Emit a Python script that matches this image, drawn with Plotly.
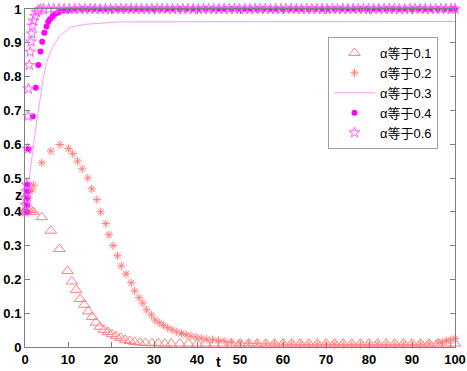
import plotly.graph_objects as go

# alpha = 0.1 (open triangles)
t1 = [0, 0.3, 0.7, 1.3, 1.9, 3.9, 6.0, 8.0, 9.9, 10.9, 11.9, 12.8, 13.8, 14.7, 15.6, 16.5,
      17.4, 18.4, 19.3, 20.2, 21.2, 22.2, 23.3, 24.4, 25.5, 26.7, 28.0, 29.5, 31.0, 32.5,
      34.0, 36.0, 38.0, 40.0, 42.0, 44.0, 46.0, 48.0, 50.0, 52.0, 54.0, 56.0, 58.0, 60.0,
      62.0, 64.0, 66.0, 68.0, 70.0, 72.0, 74.0, 76.0, 78.0, 80.0, 82.0, 84.0, 86.0, 88.0,
      90.0, 92.0, 94.0, 96.0, 98.0, 100.0]
z1 = [0.40, 0.405, 0.407, 0.405, 0.40, 0.384, 0.344, 0.29, 0.225, 0.194, 0.169, 0.142, 0.125,
      0.105, 0.089, 0.072, 0.060, 0.051, 0.044, 0.038, 0.032, 0.027, 0.021, 0.018, 0.015,
      0.013, 0.012, 0.011, 0.011, 0.010, 0.010, 0.010, 0.010, 0.010, 0.010, 0.010, 0.010,
      0.010, 0.010, 0.010, 0.010, 0.010, 0.010, 0.010, 0.010, 0.010, 0.010, 0.010, 0.010,
      0.010, 0.010, 0.010, 0.010, 0.010, 0.010, 0.010, 0.010, 0.010, 0.010, 0.010, 0.010,
      0.010, 0.010, 0.010]

# alpha = 0.2 (asterisks)
t2 = [0, 0.4, 0.8, 1.2, 1.6, 2.0, 3.9, 6.0, 8.1, 10.1, 11.1, 12.2, 13.3, 14.6, 15.5, 16.7,
      17.6, 18.8, 19.5, 20.5, 21.5, 22.4, 23.5, 24.7, 25.5, 26.5, 27.4, 28.3, 29.4, 30.2,
      31.2, 32.2, 33.2, 34.2, 35.3, 36.4, 37.5, 38.6, 39.8, 41.0, 42.3, 43.6, 45.0, 46.5,
      48.0, 50.0, 52.0, 54.0, 56.0, 58.0, 60.0, 62.0, 64.0, 66.0, 68.0, 70.0, 72.0, 74.0,
      76.0, 78.0, 80.0, 82.0, 84.0, 86.0, 88.0, 90.0, 92.0, 94.0, 96.0, 97.0, 98.0, 99.0, 100.0]
z2 = [0.40, 0.42, 0.44, 0.46, 0.465, 0.479, 0.545, 0.58, 0.599, 0.587, 0.572, 0.55, 0.527,
      0.50, 0.468, 0.436, 0.40, 0.365, 0.332, 0.30, 0.27, 0.24, 0.216, 0.19, 0.166, 0.146,
      0.13, 0.11, 0.095, 0.08, 0.072, 0.064, 0.057, 0.051, 0.045, 0.040, 0.036, 0.032, 0.029,
      0.026, 0.023, 0.021, 0.019, 0.016, 0.014, 0.012, 0.011, 0.010, 0.009, 0.009, 0.008,
      0.008, 0.007, 0.007, 0.007, 0.007, 0.007, 0.007, 0.007, 0.007, 0.007, 0.007, 0.007,
      0.007, 0.007, 0.007, 0.008, 0.009, 0.012, 0.015, 0.018, 0.021, 0.025]

# alpha = 0.3 (line)
t3 = [0, 0.4, 0.8, 1.5, 2.0, 2.5, 3.0, 3.5, 4.3, 5.0, 5.8, 6.6, 8.1, 10.5, 14.3, 22.0, 100.0]
z3 = [0.40, 0.44, 0.49, 0.55, 0.60, 0.648, 0.69, 0.733, 0.80, 0.84, 0.87, 0.891, 0.92, 0.946,
      0.955, 0.962, 0.963]

# alpha = 0.4 (filled circles)
t4 = [0.4, 0.45, 0.5, 0.55, 0.6, 0.8, 1.8, 2.5, 3.1, 3.6, 4.0, 4.5, 5.0, 5.4, 5.8, 6.4, 7.0,
      7.7, 8.5, 9.5, 10.5, 11.8, 13.2, 14.6, 16.0, 17.4, 18.8, 20.2, 21.6, 23.0, 24.4, 25.8,
      27.2, 28.6, 30.0, 31.5, 33.0, 34.5, 36.0, 37.5, 39.0, 40.5, 42.0, 43.5, 45.0, 46.5, 48.0,
      49.5, 51.0, 52.5, 54.0, 55.5, 57.0, 58.5, 60.0, 61.5, 63.0, 64.5, 66.0, 67.5, 69.0, 70.5,
      72.0, 73.5, 75.0, 76.5, 78.0, 79.5, 81.0, 82.5, 84.0, 85.5, 87.0, 88.5, 90.0, 91.5, 93.0,
      94.5, 96.0, 97.5, 99.0, 100.0]
z4 = [0.40, 0.42, 0.44, 0.46, 0.48, 0.586, 0.683, 0.767, 0.834, 0.874, 0.903, 0.93, 0.948,
      0.962, 0.97, 0.978, 0.985, 0.99, 0.994, 0.996, 0.998, 0.999, 1.0, 1.0, 1.0, 1.0, 1.0,
      1.0, 1.0, 1.0, 1.0, 1.0, 1.0, 1.0, 1.0, 1.0, 1.0, 1.0, 1.0, 1.0, 1.0, 1.0, 1.0, 1.0,
      1.0, 1.0, 1.0, 1.0, 1.0, 1.0, 1.0, 1.0, 1.0, 1.0, 1.0, 1.0, 1.0, 1.0, 1.0, 1.0, 1.0,
      1.0, 1.0, 1.0, 1.0, 1.0, 1.0, 1.0, 1.0, 1.0, 1.0, 1.0, 1.0, 1.0, 1.0, 1.0, 1.0, 1.0,
      1.0, 1.0, 1.0, 1.0]

# alpha = 0.6 (open stars)
t6 = [0, 0.1, 0.2, 0.3, 0.4, 0.6, 0.7, 0.8, 1.0, 1.2, 1.4, 1.55, 1.7, 1.9, 2.3, 2.7, 3.1,
      3.6, 4.3, 5.5, 6.7, 7.9, 9.1, 10.3, 11.5, 12.7, 13.9, 15.1, 16.3, 17.5, 18.7, 19.9,
      21.1, 22.3, 23.5, 24.7, 25.9, 27.1, 28.3, 29.5, 30.7, 31.9, 33.1, 34.3, 35.5, 36.7,
      37.9, 39.1, 40.3, 41.5, 42.7, 43.9, 45.1, 46.3, 47.5, 48.7, 49.9, 51.1, 52.3, 53.5,
      54.7, 55.9, 57.1, 58.3, 59.5, 60.7, 61.9, 63.1, 64.3, 65.5, 66.7, 67.9, 69.1, 70.3,
      71.5, 72.7, 73.9, 75.1, 76.3, 77.5, 78.7, 79.9, 81.1, 82.3, 83.5, 84.7, 85.9, 87.1,
      88.3, 89.5, 90.7, 91.9, 93.1, 94.3, 95.5, 96.7, 97.9, 99.1, 100.0]
z6 = [0.40, 0.42, 0.44, 0.46, 0.48, 0.586, 0.683, 0.764, 0.834, 0.873, 0.903, 0.927, 0.95,
      0.965, 0.979, 0.99, 0.997, 0.999, 1.0, 1.0, 1.0, 1.0, 1.0, 1.0, 1.0, 1.0, 1.0, 1.0,
      1.0, 1.0, 1.0, 1.0, 1.0, 1.0, 1.0, 1.0, 1.0, 1.0, 1.0, 1.0, 1.0, 1.0, 1.0, 1.0, 1.0,
      1.0, 1.0, 1.0, 1.0, 1.0, 1.0, 1.0, 1.0, 1.0, 1.0, 1.0, 1.0, 1.0, 1.0, 1.0, 1.0, 1.0,
      1.0, 1.0, 1.0, 1.0, 1.0, 1.0, 1.0, 1.0, 1.0, 1.0, 1.0, 1.0, 1.0, 1.0, 1.0, 1.0, 1.0,
      1.0, 1.0, 1.0, 1.0, 1.0, 1.0, 1.0, 1.0, 1.0, 1.0, 1.0, 1.0, 1.0, 1.0, 1.0, 1.0, 1.0,
      1.0, 1.0, 1.0, 1.0]

names = ["α等于0.1", "α等于0.2", "α等于0.3", "α等于0.4", "α等于0.6"]
x_ticks = [0, 10, 20, 30, 40, 50, 60, 70, 80, 90, 100]
y_ticks = [0, 0.1, 0.2, 0.3, 0.4, 0.5, 0.6, 0.7, 0.8, 0.9, 1]
y_tick_labels = ["0", "0.1", "0.2", "0.3", "0.4", "0.5", "0.6", "0.7", "0.8", "0.9", "1"]

RED = "#FF7F7F"
PINK = "#FF99FF"
MAG = "#FF00FF"
STAR = "#FF5CFF"

fig = go.Figure()
fig.add_trace(go.Scatter(x=t1, y=z1, mode="markers", name=names[0], cliponaxis=False,
                         marker=dict(symbol="triangle-up-open", size=10, color=RED,
                                     line=dict(width=1, color=RED))))
fig.add_trace(go.Scatter(x=t2, y=z2, mode="markers", name=names[1], cliponaxis=False,
                         marker=dict(symbol="asterisk-open", size=7, color=RED,
                                     line=dict(width=1, color=RED))))
fig.add_trace(go.Scatter(x=t3, y=z3, mode="lines", name=names[2],
                         line=dict(color=PINK, width=1)))
fig.add_trace(go.Scatter(x=t4, y=z4, mode="markers", name=names[3], cliponaxis=False,
                         marker=dict(symbol="circle", size=6, color=MAG,
                                     line=dict(width=0))))
fig.add_trace(go.Scatter(x=t6, y=z6, mode="markers", name=names[4], cliponaxis=False,
                         marker=dict(symbol="star-open", size=8, color=STAR,
                                     line=dict(width=1, color=STAR))))

axis_common = dict(showline=True, mirror="allticks", linecolor="#808080", linewidth=1,
                   ticks="inside", ticklen=5, tickcolor="#808080", showgrid=False,
                   zeroline=False, automargin=False, ticklabeloverflow="allow",
                   tickfont=dict(family="Liberation Sans, Arial", size=13, color="black",
                                 weight="bold"))

fig.update_layout(
    width=467, height=371,
    margin=dict(l=25, r=12, t=9, b=24, autoexpand=False),
    paper_bgcolor="white", plot_bgcolor="white",
    showlegend=True,
    legend=dict(x=(328 - 25) / 430, y=(347 - 37) / 338, xanchor="left", yanchor="top",
                bordercolor="#A0A0A0", borderwidth=1, bgcolor="white", itemwidth=41,
                font=dict(family="Liberation Sans, Noto Sans CJK SC", size=13, color="black"),
                tracegroupgap=0, itemsizing="trace"),
    xaxis=dict(range=[0, 100], tickvals=x_ticks, **axis_common),
    yaxis=dict(range=[0, 1], tickvals=y_ticks, ticktext=y_tick_labels, **axis_common),
    annotations=[
        dict(text="z", x=(18 - 25) / 430, y=0.45, xref="paper", yref="y", showarrow=False,
             xanchor="center", yanchor="middle",
             font=dict(family="Liberation Sans, Arial", size=14, color="black", weight="bold")),
        dict(text="t", x=45, y=(347 - 362) / 338, xref="x", yref="paper", showarrow=False,
             xanchor="center", yanchor="middle",
             font=dict(family="Liberation Sans, Arial", size=14, color="black", weight="bold")),
    ],
)

fig.write_html("out.html",
               config={"displayModeBar": False},
               post_script="document.body.style.margin='0px';document.body.style.overflow='hidden';")
